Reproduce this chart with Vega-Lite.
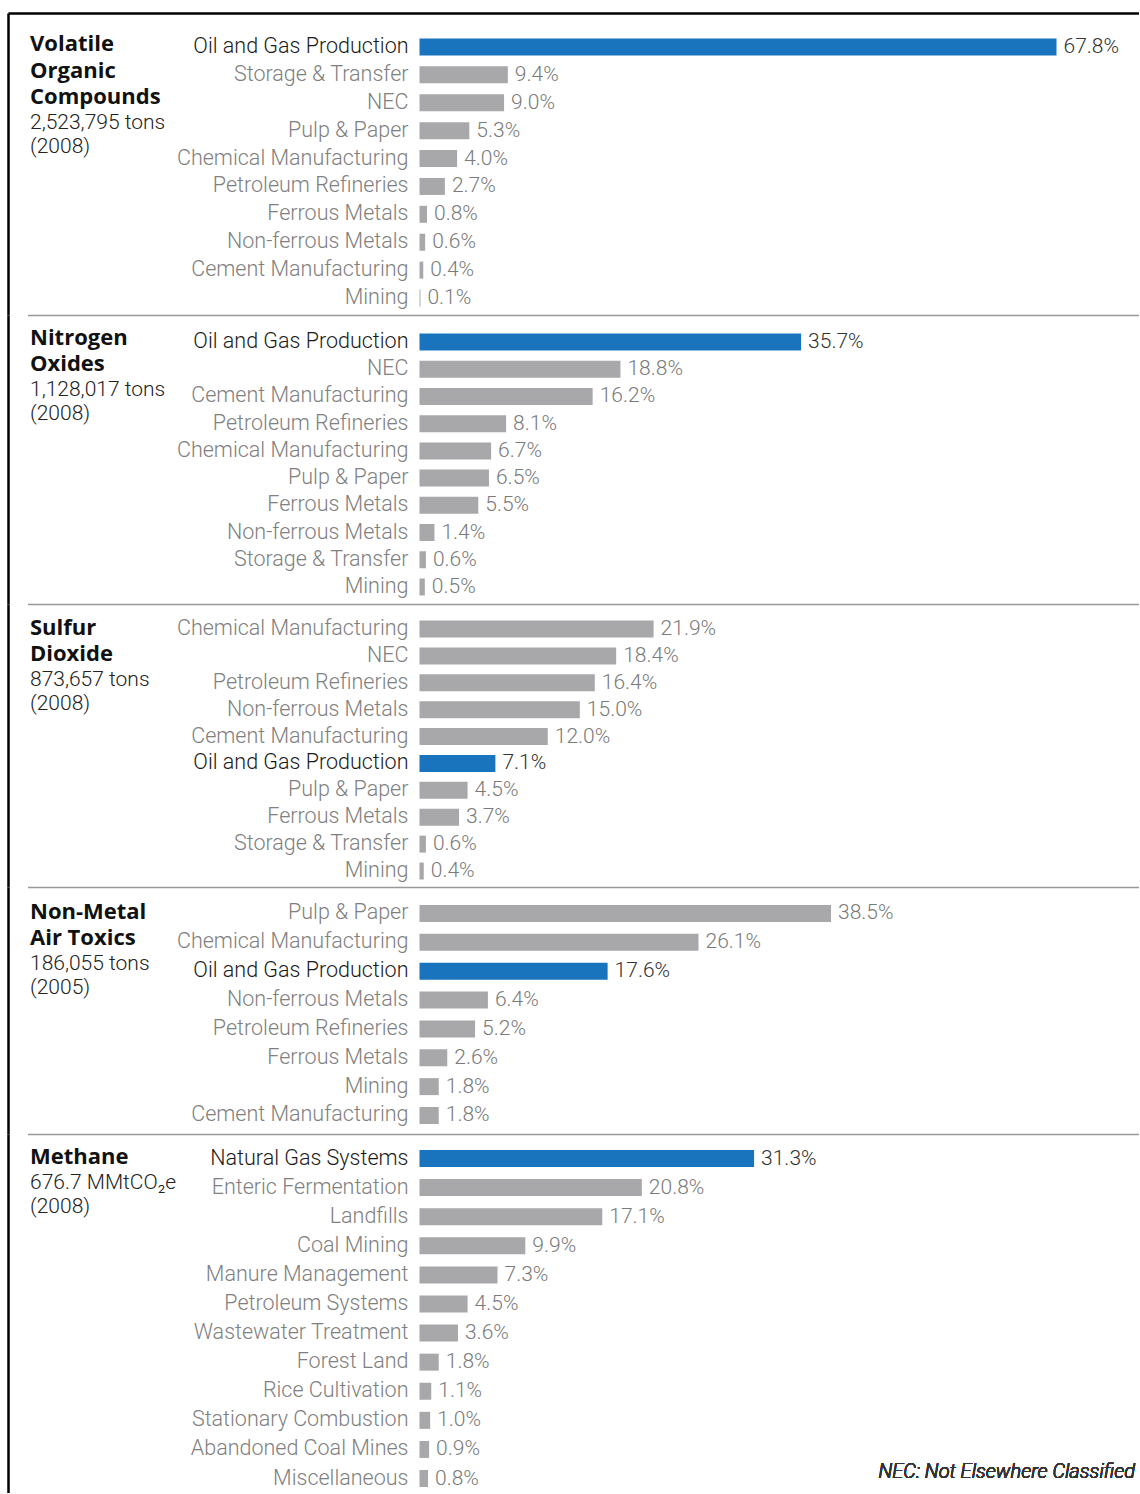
{
  "$schema": "https://vega.github.io/schema/vega-lite/v6.json",
  "padding": {"left": 8, "top": 13, "right": 0, "bottom": 0},
  "background": "white",
  "spacing": 0,
  "bounds": "flush",
  "datasets": {
    "rows": [
      {"p": 1, "cat": "Oil and Gas Production", "pct": 0.678, "hl": true},
      {"p": 1, "cat": "Storage & Transfer", "pct": 0.094, "hl": false},
      {"p": 1, "cat": "NEC", "pct": 0.090, "hl": false},
      {"p": 1, "cat": "Pulp & Paper", "pct": 0.053, "hl": false},
      {"p": 1, "cat": "Chemical Manufacturing", "pct": 0.040, "hl": false},
      {"p": 1, "cat": "Petroleum Refineries", "pct": 0.027, "hl": false},
      {"p": 1, "cat": "Ferrous Metals", "pct": 0.008, "hl": false},
      {"p": 1, "cat": "Non-ferrous Metals", "pct": 0.006, "hl": false},
      {"p": 1, "cat": "Cement Manufacturing", "pct": 0.004, "hl": false},
      {"p": 1, "cat": "Mining", "pct": 0.001, "hl": false},
      {"p": 2, "cat": "Oil and Gas Production", "pct": 0.357, "hl": true},
      {"p": 2, "cat": "NEC", "pct": 0.188, "hl": false},
      {"p": 2, "cat": "Cement Manufacturing", "pct": 0.162, "hl": false},
      {"p": 2, "cat": "Petroleum Refineries", "pct": 0.081, "hl": false},
      {"p": 2, "cat": "Chemical Manufacturing", "pct": 0.067, "hl": false},
      {"p": 2, "cat": "Pulp & Paper", "pct": 0.065, "hl": false},
      {"p": 2, "cat": "Ferrous Metals", "pct": 0.055, "hl": false},
      {"p": 2, "cat": "Non-ferrous Metals", "pct": 0.014, "hl": false},
      {"p": 2, "cat": "Storage & Transfer", "pct": 0.006, "hl": false},
      {"p": 2, "cat": "Mining", "pct": 0.005, "hl": false},
      {"p": 3, "cat": "Chemical Manufacturing", "pct": 0.219, "hl": false},
      {"p": 3, "cat": "NEC", "pct": 0.184, "hl": false},
      {"p": 3, "cat": "Petroleum Refineries", "pct": 0.164, "hl": false},
      {"p": 3, "cat": "Non-ferrous Metals", "pct": 0.150, "hl": false},
      {"p": 3, "cat": "Cement Manufacturing", "pct": 0.120, "hl": false},
      {"p": 3, "cat": "Oil and Gas Production", "pct": 0.071, "hl": true},
      {"p": 3, "cat": "Pulp & Paper", "pct": 0.045, "hl": false},
      {"p": 3, "cat": "Ferrous Metals", "pct": 0.037, "hl": false},
      {"p": 3, "cat": "Storage & Transfer", "pct": 0.006, "hl": false},
      {"p": 3, "cat": "Mining", "pct": 0.004, "hl": false},
      {"p": 4, "cat": "Pulp & Paper", "pct": 0.385, "hl": false},
      {"p": 4, "cat": "Chemical Manufacturing", "pct": 0.261, "hl": false},
      {"p": 4, "cat": "Oil and Gas Production", "pct": 0.176, "hl": true},
      {"p": 4, "cat": "Non-ferrous Metals", "pct": 0.064, "hl": false},
      {"p": 4, "cat": "Petroleum Refineries", "pct": 0.052, "hl": false},
      {"p": 4, "cat": "Ferrous Metals", "pct": 0.026, "hl": false},
      {"p": 4, "cat": "Mining", "pct": 0.018, "hl": false},
      {"p": 4, "cat": "Cement Manufacturing", "pct": 0.018, "hl": false},
      {"p": 5, "cat": "Natural Gas Systems", "pct": 0.313, "hl": true},
      {"p": 5, "cat": "Enteric Fermentation", "pct": 0.208, "hl": false},
      {"p": 5, "cat": "Landfills", "pct": 0.171, "hl": false},
      {"p": 5, "cat": "Coal Mining", "pct": 0.099, "hl": false},
      {"p": 5, "cat": "Manure Management", "pct": 0.073, "hl": false},
      {"p": 5, "cat": "Petroleum Systems", "pct": 0.045, "hl": false},
      {"p": 5, "cat": "Wastewater Treatment", "pct": 0.036, "hl": false},
      {"p": 5, "cat": "Forest Land", "pct": 0.018, "hl": false},
      {"p": 5, "cat": "Rice Cultivation", "pct": 0.011, "hl": false},
      {"p": 5, "cat": "Stationary Combustion", "pct": 0.010, "hl": false},
      {"p": 5, "cat": "Abandoned Coal Mines", "pct": 0.009, "hl": false},
      {"p": 5, "cat": "Miscellaneous", "pct": 0.008, "hl": false}
    ]
  },
  "vconcat": [
    {
      "width": 1131, "height": 302,
      "data": {"name": "rows"},
      "transform": [{"filter": "datum.p == 1"}],
      "title": {"text": ["Volatile", "Organic", "Compounds"], "subtitle": ["2,523,795 tons", "(2008)"], "dy": 149},
      "encoding": {
        "y": {"field": "cat", "type": "nominal", "sort": null,
              "scale": {"paddingInner": 0.391, "paddingOuter": 0.608, "align": 0.75},
              "axis": {"domain": true, "domainColor": "#000000", "domainWidth": 2.5, "labels": false, "ticks": false, "grid": false, "title": null}},
        "x": {"field": "pct", "type": "quantitative",
              "scale": {"domain": [-0.438, 0.7658], "nice": false, "zero": false},
              "axis": {"orient": "top", "domain": true, "domainColor": "#000000", "domainWidth": 2.5, "labels": false, "ticks": false, "grid": false, "title": null}}
      },
      "layer": [
        {"mark": {"type": "bar"}, "encoding": {"x2": {"datum": 0}, "color": {"condition": {"test": "datum.hl", "value": "#1a73bd"}, "value": "#a8a8ab"}}},
        {"mark": {"type": "text", "align": "left", "baseline": "middle", "dx": 7, "fontSize": 21}, "encoding": {"text": {"field": "pct", "format": ".1%"}, "color": {"condition": {"test": "datum.hl", "value": "#333333"}, "value": "#7a7a7a"}}},
        {"mark": {"type": "text", "align": "right", "baseline": "middle", "dx": -11, "fontSize": 21.5}, "encoding": {"x": {"datum": 0}, "text": {"field": "cat"}, "color": {"condition": {"test": "datum.hl", "value": "#1a1a1a"}, "value": "#808080"}}}
      ]
    },
    {
      "width": 1131, "height": 289,
      "data": {"name": "rows"},
      "transform": [{"filter": "datum.p == 2"}],
      "title": {"text": ["Nitrogen", "Oxides"], "subtitle": ["1,128,017 tons", "(2008)"], "dy": 114},
      "encoding": {
        "y": {"field": "cat", "type": "nominal", "sort": null,
              "scale": {"paddingInner": 0.3755, "paddingOuter": 0.4965, "align": 0.685},
              "axis": {"domain": true, "domainColor": "#000000", "domainWidth": 2.5, "labels": false, "ticks": false, "grid": false, "title": null}},
        "x": {"field": "pct", "type": "quantitative",
              "scale": {"domain": [-0.3667, 0.6731], "range": [19.5, 1131], "nice": false, "zero": false},
              "axis": {"orient": "top", "domain": true, "domainColor": "#999999", "domainWidth": 1.5, "labels": false, "ticks": false, "grid": false, "title": null}}
      },
      "layer": [
        {"mark": {"type": "bar"}, "encoding": {"x2": {"datum": 0}, "color": {"condition": {"test": "datum.hl", "value": "#1a73bd"}, "value": "#a8a8ab"}}},
        {"mark": {"type": "text", "align": "left", "baseline": "middle", "dx": 7, "fontSize": 21}, "encoding": {"text": {"field": "pct", "format": ".1%"}, "color": {"condition": {"test": "datum.hl", "value": "#333333"}, "value": "#7a7a7a"}}},
        {"mark": {"type": "text", "align": "right", "baseline": "middle", "dx": -11, "fontSize": 21.5}, "encoding": {"x": {"datum": 0}, "text": {"field": "cat"}, "color": {"condition": {"test": "datum.hl", "value": "#1a1a1a"}, "value": "#808080"}}}
      ]
    },
    {
      "width": 1131, "height": 283,
      "data": {"name": "rows"},
      "transform": [{"filter": "datum.p == 3"}],
      "title": {"text": ["Sulfur", "Dioxide"], "subtitle": ["873,657 tons", "(2008)"], "dy": 115},
      "encoding": {
        "y": {"field": "cat", "type": "nominal", "sort": null,
              "scale": {"paddingInner": 0.3678, "paddingOuter": 0.446, "align": 0.6875},
              "axis": {"domain": true, "domainColor": "#000000", "domainWidth": 2.5, "labels": false, "ticks": false, "grid": false, "title": null}},
        "x": {"field": "pct", "type": "quantitative",
              "scale": {"domain": [-0.3667, 0.6731], "range": [19.5, 1131], "nice": false, "zero": false},
              "axis": {"orient": "top", "domain": true, "domainColor": "#999999", "domainWidth": 1.5, "labels": false, "ticks": false, "grid": false, "title": null}}
      },
      "layer": [
        {"mark": {"type": "bar"}, "encoding": {"x2": {"datum": 0}, "color": {"condition": {"test": "datum.hl", "value": "#1a73bd"}, "value": "#a8a8ab"}}},
        {"mark": {"type": "text", "align": "left", "baseline": "middle", "dx": 7, "fontSize": 21}, "encoding": {"text": {"field": "pct", "format": ".1%"}, "color": {"condition": {"test": "datum.hl", "value": "#333333"}, "value": "#7a7a7a"}}},
        {"mark": {"type": "text", "align": "right", "baseline": "middle", "dx": -11, "fontSize": 21.5}, "encoding": {"x": {"datum": 0}, "text": {"field": "cat"}, "color": {"condition": {"test": "datum.hl", "value": "#1a1a1a"}, "value": "#808080"}}}
      ]
    },
    {
      "width": 1131, "height": 247,
      "data": {"name": "rows"},
      "transform": [{"filter": "datum.p == 4"}],
      "title": {"text": ["Non-Metal", "Air Toxics"], "subtitle": ["186,055 tons", "(2005)"], "dy": 116},
      "encoding": {
        "y": {"field": "cat", "type": "nominal", "sort": null,
              "scale": {"paddingInner": 0.411, "paddingOuter": 0.4848, "align": 0.642},
              "axis": {"domain": true, "domainColor": "#000000", "domainWidth": 2.5, "labels": false, "ticks": false, "grid": false, "title": null}},
        "x": {"field": "pct", "type": "quantitative",
              "scale": {"domain": [-0.3667, 0.6731], "range": [19.5, 1131], "nice": false, "zero": false},
              "axis": {"orient": "top", "domain": true, "domainColor": "#999999", "domainWidth": 1.5, "labels": false, "ticks": false, "grid": false, "title": null}}
      },
      "layer": [
        {"mark": {"type": "bar"}, "encoding": {"x2": {"datum": 0}, "color": {"condition": {"test": "datum.hl", "value": "#1a73bd"}, "value": "#a8a8ab"}}},
        {"mark": {"type": "text", "align": "left", "baseline": "middle", "dx": 7, "fontSize": 21}, "encoding": {"text": {"field": "pct", "format": ".1%"}, "color": {"condition": {"test": "datum.hl", "value": "#333333"}, "value": "#7a7a7a"}}},
        {"mark": {"type": "text", "align": "right", "baseline": "middle", "dx": -11, "fontSize": 21.5}, "encoding": {"x": {"datum": 0}, "text": {"field": "cat"}, "color": {"condition": {"test": "datum.hl", "value": "#1a1a1a"}, "value": "#808080"}}}
      ]
    },
    {
      "width": 1131, "height": 359,
      "data": {"name": "rows"},
      "transform": [{"filter": "datum.p == 5"}],
      "title": {"text": ["Methane"], "subtitle": ["676.7 MMtCO₂e", "(2008)"], "dy": 88},
      "encoding": {
        "y": {"field": "cat", "type": "nominal", "sort": null,
              "scale": {"paddingInner": 0.4156, "paddingOuter": 0.378, "align": 0.728},
              "axis": {"domain": true, "domainColor": "#000000", "domainWidth": 2.5, "labels": false, "ticks": false, "grid": false, "title": null}},
        "x": {"field": "pct", "type": "quantitative",
              "scale": {"domain": [-0.3667, 0.6731], "range": [19.5, 1131], "nice": false, "zero": false},
              "axis": {"orient": "top", "domain": true, "domainColor": "#999999", "domainWidth": 1.5, "labels": false, "ticks": false, "grid": false, "title": null}}
      },
      "layer": [
        {"mark": {"type": "bar"}, "encoding": {"x2": {"datum": 0}, "color": {"condition": {"test": "datum.hl", "value": "#1a73bd"}, "value": "#a8a8ab"}}},
        {"mark": {"type": "text", "align": "left", "baseline": "middle", "dx": 7, "fontSize": 21}, "encoding": {"text": {"field": "pct", "format": ".1%"}, "color": {"condition": {"test": "datum.hl", "value": "#333333"}, "value": "#7a7a7a"}}},
        {"mark": {"type": "text", "align": "right", "baseline": "middle", "dx": -11, "fontSize": 21.5}, "encoding": {"x": {"datum": 0}, "text": {"field": "cat"}, "color": {"condition": {"test": "datum.hl", "value": "#1a1a1a"}, "value": "#808080"}}},
        {"mark": {"type": "text", "align": "right", "baseline": "middle", "dx": -4, "dy": -7, "fontSize": 20, "fontStyle": "italic", "fontWeight": 300, "color": "#333333"},
         "encoding": {"x": {"datum": 0.6731}, "y": {"datum": "Miscellaneous"}, "text": {"value": "NEC: Not Elsewhere Classified"}}}
      ]
    }
  ],
  "config": {
    "view": {"stroke": null},
    "text": {"font": "Roboto", "fontWeight": 300},
    "title": {
      "orient": "top", "anchor": "start", "frame": "group", "baseline": "top",
      "offset": 0, "dx": 22,
      "font": "Open Sans", "fontSize": 22, "fontWeight": "bold", "color": "#111111", "lineHeight": 26.5,
      "subtitleFont": "Roboto", "subtitleFontSize": 21, "subtitleFontWeight": 300, "subtitleColor": "#222222",
      "subtitleLineHeight": 24, "subtitlePadding": 0
    }
  }
}
